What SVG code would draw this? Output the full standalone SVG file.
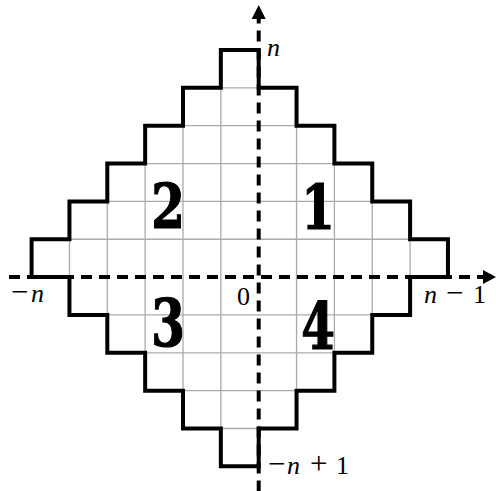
<svg xmlns="http://www.w3.org/2000/svg" width="496" height="491" viewBox="0 0 496 491">
  <style>
    .grid { stroke: #aaaaaa; stroke-width: 1.3; fill: none; }
    .stair { stroke: #000; stroke-width: 4; fill: none; stroke-linejoin: miter; stroke-linecap: square; }
    .axis { stroke: #000; stroke-width: 4; fill: none; stroke-dasharray: 11 7; }
    .lbl { font-size: 26px; fill: #000; }
    .it { font-style: italic; }
    .op { font-size: 31px; }
    .big { font-weight: bold; font-size: 62px; fill: #000; stroke: #000; stroke-width: 1.2; text-anchor: middle; }
  </style>
  <defs>
    <clipPath id="region">
      <path id="shape" d="M220.85,50 L258.7,50 L258.7,87.85 L296.55,87.85 L296.55,125.7 L334.4,125.7 L334.4,163.55 L372.25,163.55 L372.25,201.4 L410.1,201.4 L410.1,239.25 L447.95,239.25 L447.95,277.1 L410.1,277.1 L410.1,314.95 L372.25,314.95 L372.25,352.8 L334.4,352.8 L334.4,390.65 L296.55,390.65 L296.55,428.5 L258.7,428.5 L258.7,466.35 L220.85,466.35 L220.85,428.5 L183,428.5 L183,390.65 L145.15,390.65 L145.15,352.8 L107.3,352.8 L107.3,314.95 L69.45,314.95 L69.45,277.1 L31.6,277.1 L31.6,239.25 L69.45,239.25 L69.45,201.4 L107.3,201.4 L107.3,163.55 L145.15,163.55 L145.15,125.7 L183,125.7 L183,87.85 L220.85,87.85 Z"/>
    </clipPath>
  </defs>

  <g id="grid" class="grid" clip-path="url(#region)">
    <line x1="69.45" y1="40" x2="69.45" y2="480"/>
    <line x1="107.3" y1="40" x2="107.3" y2="480"/>
    <line x1="145.15" y1="40" x2="145.15" y2="480"/>
    <line x1="183" y1="40" x2="183" y2="480"/>
    <line x1="220.85" y1="40" x2="220.85" y2="480"/>
    <line x1="296.55" y1="40" x2="296.55" y2="480"/>
    <line x1="334.4" y1="40" x2="334.4" y2="480"/>
    <line x1="372.25" y1="40" x2="372.25" y2="480"/>
    <line x1="410.1" y1="40" x2="410.1" y2="480"/>
    <line x1="20" y1="87.85" x2="460" y2="87.85"/>
    <line x1="20" y1="125.7" x2="460" y2="125.7"/>
    <line x1="20" y1="163.55" x2="460" y2="163.55"/>
    <line x1="20" y1="201.4" x2="460" y2="201.4"/>
    <line x1="20" y1="239.25" x2="460" y2="239.25"/>
    <line x1="20" y1="314.95" x2="460" y2="314.95"/>
    <line x1="20" y1="352.8" x2="460" y2="352.8"/>
    <line x1="20" y1="390.65" x2="460" y2="390.65"/>
    <line x1="20" y1="428.5" x2="460" y2="428.5"/>
  </g>

  <g id="region-outline">
    <use href="#shape" class="stair"/>
  </g>

  <g id="connectors">
    <line class="axis" x1="9" y1="277.1" x2="485" y2="277.1"/>
    <polygon points="483,270.1 496,277.1 483,284.1" fill="#000"/>
    <line class="axis" x1="258.7" y1="491.5" x2="258.7" y2="17"/>
    <polygon points="251.7,19 258.7,5 265.7,19" fill="#000"/>
  </g>

  <g id="labels" font-family="'Liberation Serif', 'Times New Roman', serif">
    <text class="lbl it" x="267" y="56">n</text>
    <text class="lbl" y="302"><tspan class="op" x="11">−</tspan><tspan class="it" x="31">n</tspan></text>
    <text class="lbl" y="303"><tspan class="it" x="424">n</tspan><tspan class="op" x="446">−</tspan><tspan x="473">1</tspan></text>
    <text class="lbl" y="474"><tspan class="op" x="268">−</tspan><tspan class="it" x="287">n</tspan><tspan class="op" x="310">+</tspan><tspan x="336">1</tspan></text>
    <text class="lbl" x="243.5" y="305" text-anchor="middle" font-size="22">0</text>
  </g>

  <g id="quadrants" font-family="'DejaVu Serif', serif">
    <g id="quadrant-1"><text class="big" transform="translate(318,229) scale(0.78,1)">1</text></g>
    <g id="quadrant-2"><text class="big" transform="translate(168,228) scale(0.78,1)">2</text></g>
    <g id="quadrant-3"><text class="big" transform="translate(168,346) scale(0.78,1.04)">3</text></g>
    <g id="quadrant-4"><text class="big" transform="translate(318,349) scale(0.78,1.04)">4</text></g>
  </g>
</svg>
